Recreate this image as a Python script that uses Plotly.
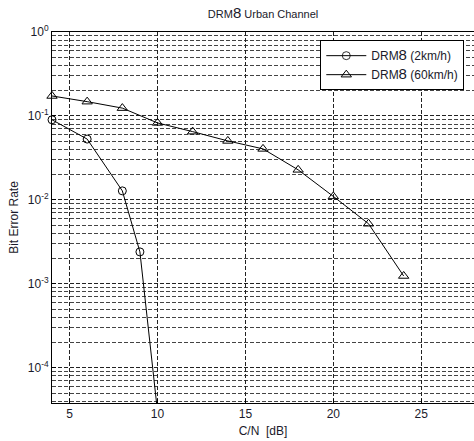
import plotly.graph_objects as go

# Data
snr_2kmh = [4, 6, 8, 9, 10]
ber_2kmh = [0.09, 0.053, 0.0128, 0.0024, 3e-5]
snr_60kmh = [4, 6, 8, 10, 12, 14, 16, 18, 20, 22, 24]
ber_60kmh = [0.173, 0.148, 0.124, 0.0826, 0.065, 0.0504, 0.0405, 0.0228, 0.011, 0.0052, 0.00124]

x_ticks = [5, 10, 15, 20, 25]
y_ticks = [1e-4, 1e-3, 1e-2, 1e-1, 1]
y_ticktext = ["10<sup>-4</sup>", "10<sup>-3</sup>", "10<sup>-2</sup>", "10<sup>-1</sup>", "10<sup>0</sup>"]
minor_vals = [m * 10.0 ** k for k in range(-5, 0) for m in range(2, 10)]

Y_RANGE = [-4.42, 0]
FONT = "Liberation Sans, Arial, sans-serif"
BIG8 = "<span style='font-size:15px'>8</span>"

# markers outside the visible y range are hidden (as MATLAB does)
vis_2kmh = [1 if v >= 10 ** Y_RANGE[0] else 0 for v in ber_2kmh]

fig = go.Figure()
fig.add_trace(go.Scatter(
    x=snr_2kmh, y=ber_2kmh, mode="lines+markers", cliponaxis=False,
    name="DRM" + BIG8 + " (2km/h)",
    line=dict(color="black", width=1),
    marker=dict(symbol="circle-open", size=8, color="black", opacity=vis_2kmh,
                line=dict(width=1)),
))
fig.add_trace(go.Scatter(
    x=snr_60kmh, y=ber_60kmh, mode="lines+markers", cliponaxis=False,
    name="DRM" + BIG8 + " (60km/h)",
    line=dict(color="black", width=1),
    marker=dict(symbol="triangle-up-open", size=9, color="black", line=dict(width=1)),
))

grid_dash = "4px,2px"
fig.update_layout(
    width=474, height=441,
    margin=dict(l=52, r=0, t=32, b=38),
    paper_bgcolor="white", plot_bgcolor="white",
    font=dict(family=FONT, size=12, color="#1a1a2a"),
    title=dict(text="DRM" + BIG8 + " Urban Channel", x=0.555, xanchor="center",
               y=1 - 14 / 441, yanchor="middle", font=dict(size=11)),
    showlegend=True,
    legend=dict(x=0.977, y=0.978, xanchor="right", yanchor="top",
                bgcolor="white", bordercolor="black", borderwidth=1,
                font=dict(size=12), tracegroupgap=0, itemwidth=40),
    xaxis=dict(
        range=[4, 28], tickvals=x_ticks, showline=True, linecolor="black", linewidth=1,
        mirror=True, ticks="inside", ticklen=4, tickcolor="black",
        showgrid=True, gridcolor="#222", gridwidth=1, griddash=grid_dash,
        zeroline=False, tickfont=dict(size=12),
        title=dict(text="C/N  [dB]", font=dict(size=12), standoff=6),
    ),
    yaxis=dict(
        type="log", range=Y_RANGE, tickvals=y_ticks, ticktext=y_ticktext,
        showline=True, linecolor="black", linewidth=1, mirror=True,
        ticks="inside", ticklen=4, tickcolor="black",
        showgrid=True, gridcolor="#222", gridwidth=1, griddash=grid_dash,
        minor=dict(tickvals=minor_vals, showgrid=True, gridcolor="#444",
                   gridwidth=1, griddash=grid_dash, ticks=""),
        zeroline=False, tickfont=dict(size=12),
        title=dict(text="Bit Error Rate", font=dict(size=12), standoff=6),
    ),
)

fig.write_html("out.html")
